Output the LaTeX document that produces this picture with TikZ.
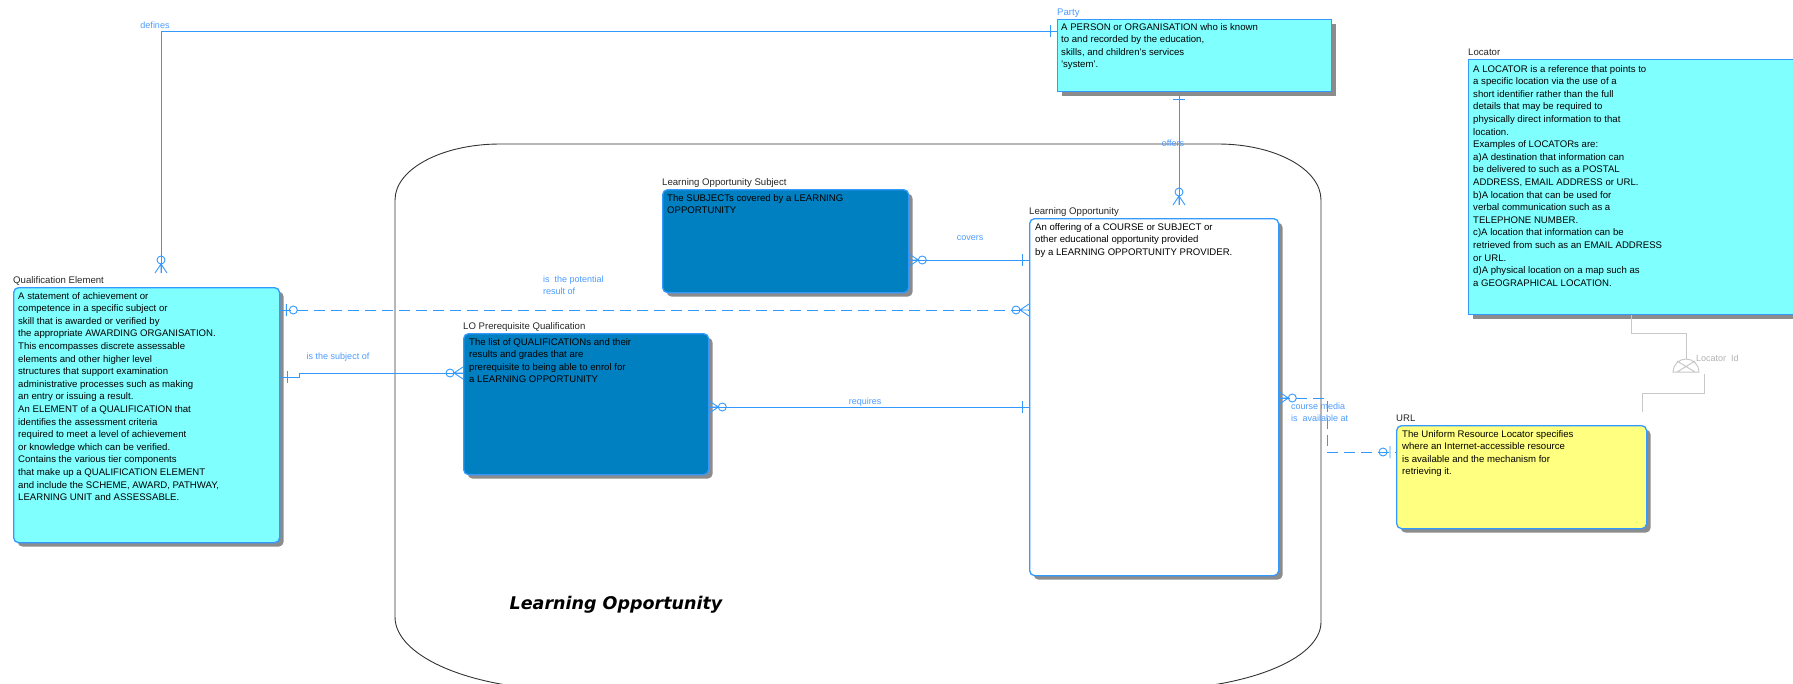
\documentclass[tikz,border=0pt]{standalone}
\usepackage{fontspec}
\setmainfont{Liberation Sans}
\newfontfamily\areafont{DejaVu Sans}
\usepackage{tikz}
\usetikzlibrary{shadows}

\definecolor{erblue}{RGB}{51,153,255}
\definecolor{lblblue}{RGB}{77,155,255}
\definecolor{entcyan}{RGB}{128,255,255}
\definecolor{entdark}{RGB}{0,128,192}
\definecolor{entyellow}{RGB}{255,255,128}
\definecolor{keygrey}{RGB}{200,200,200}

\tikzstyle{entity}=[draw=erblue,line width=1.3pt,anchor=north west,inner sep=0pt,
  drop shadow={shadow xshift=4pt,shadow yshift=-4pt,fill=black!45,opacity=1}]
\tikzstyle{dependent}=[entity,rounded corners=5pt]
\tikzstyle{title}=[anchor=base west,inner sep=0pt,yshift=3.5pt,text=black!85,font=\fontsize{9.6}{12}\selectfont]
\tikzstyle{desc}=[anchor=north west,align=left,inner sep=0pt,font=\fontsize{9.6}{12.6}\selectfont]
\tikzstyle{rel}=[draw=erblue,line width=0.9pt]
\tikzstyle{optional}=[rel,dash pattern=on 11pt off 6pt]
\tikzstyle{rellabel}=[text=lblblue,inner sep=0pt,align=left,font=\fontsize{9}{12}\selectfont]

\tikzset{
  markone/.pic={\draw[erblue,line width=0.9pt] (-7,-6) -- (-7,6);},
  markzeroone/.pic={\draw[erblue,line width=0.9pt] (-6,-6) -- (-6,6) (-13,0) circle[radius=4];},
  markmany/.pic={\draw[erblue,line width=0.9pt] (0,-6) -- (-9,0) -- (0,6) (0,0) -- (-9,0) (-13,0) circle[radius=4];}
}

\begin{document}
\begin{tikzpicture}[x=1pt,y=-1pt]
\useasboundingbox (0,0) rectangle (1793,683);

\draw[black!80,line width=0.9pt] (500,144) -- (1218,144)
  .. controls (1275,144) and (1321,169) .. (1321,200) -- (1321,622)
  .. controls (1321,660) and (1243,690) .. (1146,690) -- (570,690)
  .. controls (473,690) and (395,657) .. (395,617) -- (395,200)
  .. controls (395,169) and (442,144) .. (500,144) -- cycle;
\node[inner sep=0pt,font=\areafont\bfseries\itshape\fontsize{17.5}{20}\selectfont] (area) at (616,605) {Learning Opportunity};

\node[dependent,fill=entcyan,minimum width=266pt,minimum height=255pt] (qe) at (13,287) {};
\node[entity,fill=entcyan,minimum width=274pt,minimum height=72pt] (party) at (1057,19) {};
\node[dependent,fill=entdark,minimum width=246pt,minimum height=103pt] (los) at (662,189) {};
\node[dependent,fill=entdark,minimum width=245pt,minimum height=141pt] (lopq) at (463,333) {};
\node[dependent,fill=white,minimum width=249pt,minimum height=357pt] (lo) at (1029,218) {};
\node[entity,fill=entcyan,minimum width=340pt,minimum height=255pt] (locator) at (1468,59) {};
\node[dependent,fill=entyellow,minimum width=250pt,minimum height=103pt] (url) at (1396,425) {};

\node[title] at (qe.north west) {Qualification Element};
\node[title,text=lblblue] at (party.north west) {Party};
\node[title] at (los.north west) {Learning Opportunity Subject};
\node[title] at (lopq.north west) {LO Prerequisite Qualification};
\node[title] at (lo.north west) {Learning Opportunity};
\node[title] at (locator.north west) {Locator};
\node[title] at (url.north west) {URL};

\node[desc] at ([shift={(5,5)}]qe.north west) {A statement of achievement or\\
competence in a specific subject or\\
skill that is awarded or verified by\\
the appropriate AWARDING ORGANISATION.\\
This encompasses discrete assessable\\
elements and other higher level\\
structures that support examination\\
administrative processes such as making\\
an entry or issuing a result.\\
An ELEMENT of a QUALIFICATION that\\
identifies the assessment criteria\\
required to meet a level of achievement\\
or knowledge which can be verified.\\
Contains the various tier components\\
that make up a QUALIFICATION ELEMENT\\
and include the SCHEME, AWARD, PATHWAY,\\
LEARNING UNIT and ASSESSABLE.};
\node[desc] at ([shift={(4,4)}]party.north west) {A PERSON or ORGANISATION who is known\\
to and recorded by the education,\\
skills, and children's services\\
'system'.};
\node[desc] at ([shift={(5,5)}]los.north west) {The SUBJECTs covered by a LEARNING\\
OPPORTUNITY};
\node[desc] at ([shift={(6,5)}]lopq.north west) {The list of QUALIFICATIONs and their\\
results and grades that are\\
prerequisite to being able to enrol for\\
a LEARNING OPPORTUNITY};
\node[desc] at ([shift={(6,5)}]lo.north west) {An offering of a COURSE or SUBJECT or\\
other educational opportunity provided\\
by a LEARNING OPPORTUNITY PROVIDER.};
\node[desc] at ([shift={(5,6)}]locator.north west) {A LOCATOR is a reference that points to\\
a specific location via the use of a\\
short identifier rather than the full\\
details that may be required to\\
physically direct information to that\\
location.\\
Examples of LOCATORs are:\\
a)A destination that information can\\
be delivered to such as a POSTAL\\
ADDRESS, EMAIL ADDRESS or URL.\\
b)A location that can be used for\\
verbal communication such as a\\
TELEPHONE NUMBER.\\
c)A location that information can be\\
retrieved from such as an EMAIL ADDRESS\\
or URL.\\
d)A physical location on a map such as\\
a GEOGRAPHICAL LOCATION.};
\node[desc] at ([shift={(6,5)}]url.north west) {The Uniform Resource Locator specifies\\
where an Internet-accessible resource\\
is available and the mechanism for\\
retrieving it.};

\coordinate (qetop) at (161,273);
\coordinate (lotop) at (1179,205);

\draw[rel] (party.west |- 0,31) -| (qetop);
\pic at (party.west |- 0,31) {markone};
\pic[rotate=-90] at (qetop) {markmany};
\node[rellabel] at (155,25) {defines};

\draw[rel] (1179,0 |- party.south) -- (lotop);
\pic[rotate=90] at (1179,0 |- party.south) {markone};
\pic[rotate=-90] at (lotop) {markmany};
\node[rellabel] at (1173,143) {offers};

\draw[rel] (los.east |- 0,260) -- (lo.west |- 0,260);
\pic[rotate=180] at (los.east |- 0,260) {markmany};
\pic at (lo.west |- 0,260) {markone};
\node[rellabel] at (970,238) {covers};

\draw[optional] (qe.east |- 0,310) -- (lo.west |- 0,310);
\pic[rotate=180] at (qe.east |- 0,310) {markzeroone};
\pic at (lo.west |- 0,310) {markmany};
\node[rellabel,anchor=north west] at (543,276) {is\ \ the potential\\result of};

\draw[rel] (qe.east |- 0,377) -- (299,377) -- (299,373) -- (lopq.west |- 0,373);
\pic[rotate=180] at (qe.east |- 0,377) {markone};
\pic at (lopq.west |- 0,373) {markmany};
\node[rellabel] at (338,357) {is the subject of};

\draw[rel] (lopq.east |- 0,407) -- (lo.west |- 0,407);
\pic[rotate=180] at (lopq.east |- 0,407) {markmany};
\pic at (lo.west |- 0,407) {markone};
\node[rellabel] at (865,402) {requires};

\draw[optional] (lo.east |- 0,398) -| (1327,452) -- (url.west |- 0,452);
\pic[rotate=180] at (lo.east |- 0,398) {markmany};
\pic at (url.west |- 0,452) {markzeroone};
\node[rellabel,anchor=north west] at (1291,403) {course media\\is\ \ available at};

\draw[keygrey,line width=1pt] (1631,0 |- locator.south) |- (1686,333) -- (1686,359);
\draw[keygrey,line width=1pt] (1673,372) arc[start angle=180,end angle=360,radius=13] -- cycle
  (1677,372) -- (1695,361) (1677,361) -- (1695,372);
\draw[keygrey,line width=1pt] (1704,374) |- (1642,393) -- (1642,412);
\node[anchor=west,inner sep=0pt,text=black!30,font=\fontsize{9}{12}\selectfont] (keyname) at (1696,358) {Locator\ \ Id};
\end{tikzpicture}
\end{document}
